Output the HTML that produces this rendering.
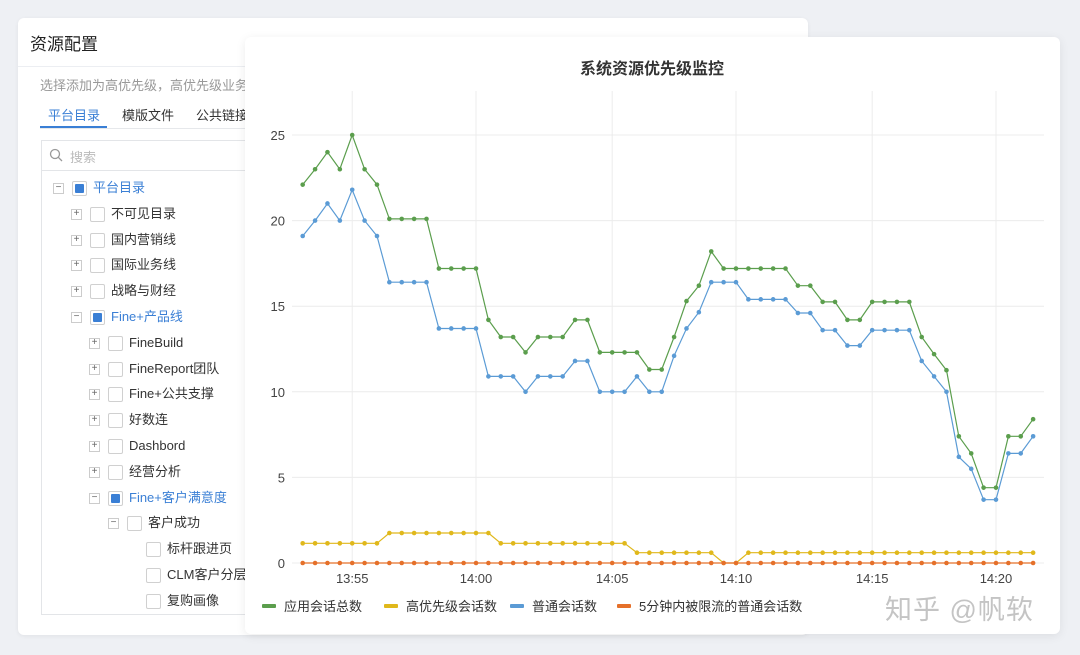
<!DOCTYPE html>
<html><head><meta charset="utf-8">
<style>
body{margin:0;width:1080px;height:655px;background:#eef0f4;position:relative;overflow:hidden;font-family:"Liberation Sans","Noto Sans CJK SC",sans-serif;}
.abs{position:absolute;}
#left{left:18px;top:18px;width:790px;height:617px;background:#fff;border-radius:6px;box-shadow:0 1px 4px rgba(0,0,0,0.06);}
.row{position:absolute;font-size:13px;color:#333;white-space:nowrap;height:20px;line-height:20px;}
.exp{position:absolute;width:9px;height:9px;border:1px solid #ccc;background:#fff;font-size:10px;line-height:8px;text-align:center;color:#666;}
.cb{position:absolute;width:13px;height:13px;border:1px solid #d0d0d0;background:#fff;border-radius:2px;}
.cb.on::after{content:"";position:absolute;left:2px;top:2px;width:9px;height:9px;background:#3a7fd5;border-radius:1px;}
#card{left:245px;top:37px;width:815px;height:597px;background:#fff;border-radius:6px;box-shadow:0 2px 10px rgba(0,0,0,0.08);}
</style></head><body>
<div id="left" class="abs">
  <div class="abs" style="left:12px;top:12px;font-size:17px;color:#222;">资源配置</div>
  <div class="abs" style="left:0;top:48px;width:790px;height:1px;background:#eceef2;"></div>
  <div class="abs" style="left:22px;top:57px;font-size:13px;color:#999;white-space:nowrap;">选择添加为高优先级，高优先级业务</div>
  <div class="abs" style="left:30px;top:87px;font-size:13px;color:#3a7fd5;">平台目录</div>
  <div class="abs" style="left:104px;top:87px;font-size:13px;color:#333;">模版文件</div>
  <div class="abs" style="left:178px;top:87px;font-size:13px;color:#333;">公共链接</div>
  <div class="abs" style="left:22px;top:108px;width:67px;height:2px;background:#3a7fd5;"></div>
  <div class="abs" style="left:22px;top:110px;width:768px;height:1px;background:#e6e8eb;"></div>
  <div class="abs" style="left:23px;top:122px;width:240px;height:473px;border:1px solid #e3e5e8;">
    <div class="abs" style="left:0;top:0;width:240px;height:29px;border-bottom:1px solid #e3e5e8;">
      <svg class="abs" style="left:7px;top:7px" width="14" height="14"><circle cx="6" cy="6" r="4.5" fill="none" stroke="#999" stroke-width="1.3"/><line x1="9.3" y1="9.3" x2="13" y2="13" stroke="#999" stroke-width="1.3"/></svg>
      <div class="abs" style="left:28px;top:6px;font-size:13px;color:#bbb;">搜索</div>
    </div>
  </div>
  <div id="tree"></div>
</div>

<div id="card" class="abs">
<svg id="chart" width="815" height="597" style="position:absolute;left:0;top:0">
<g id="root" transform="translate(-245,-37)"></g>
</svg>
</div>
<div class="abs" style="left:885px;top:588px;font-size:27px;color:#c4c4c4;letter-spacing:1px;text-shadow:1px 1px 0 #fff;white-space:nowrap;">知乎 @帆软</div>

<script>
// ---- tree ----
const treeItems=[["平台目录",0,"m",1,1],["不可见目录",1,"p",0,0],["国内营销线",1,"p",0,0],["国际业务线",1,"p",0,0],["战略与财经",1,"p",0,0],["Fine+产品线",1,"m",1,1],["FineBuild",2,"p",0,0],["FineReport团队",2,"p",0,0],["Fine+公共支撑",2,"p",0,0],["好数连",2,"p",0,0],["Dashbord",2,"p",0,0],["经营分析",2,"p",0,0],["Fine+客户满意度",2,"m",1,1],["客户成功",3,"m",0,0],["标杆跟进页",4,"",0,0],["CLM客户分层-",4,"",0,0],["复购画像",4,"",0,0]];
const tree=document.getElementById('tree');
treeItems.forEach((it,i)=>{
  const cy=170+i*25.8;
  const lx=[40,58,76,95,114][it[1]];
  const d=document.createElement('div');
  d.className='row';
  
  
  d.style.left='0px';d.style.top=(cy-10)+'px';d.style.width='245px';
  let h='';
  if(it[2]) h+='<div class="exp" style="left:'+(lx-5)+'px;top:5px">'+(it[2]=='m'?'−':'+')+'</div>';
  h+='<div class="cb'+(it[3]?' on':'')+'" style="left:'+(lx+14)+'px;top:3px"></div>';
  h+='<div style="position:absolute;left:'+(lx+35)+'px;top:0;color:'+(it[4]?'#3a7fd5':'#333')+'">'+it[0]+'</div>';
  d.innerHTML=h;tree.appendChild(d);
});

// ---- chart data ----
const categories=["13:53:00","13:53:30","13:54:00","13:54:30","13:55:00","13:55:30","13:56:00","13:56:30","13:57:00","13:57:30","13:58:00","13:58:30","13:59:00","13:59:30","14:00:00","14:00:30","14:01:00","14:01:30","14:02:00","14:02:30","14:03:00","14:03:30","14:04:00","14:04:30","14:05:00","14:05:30","14:06:00","14:06:30","14:07:00","14:07:30","14:08:00","14:08:30","14:09:00","14:09:30","14:10:00","14:10:30","14:11:00","14:11:30","14:12:00","14:12:30","14:13:00","14:13:30","14:14:00","14:14:30","14:15:00","14:15:30","14:16:00","14:16:30","14:17:00","14:17:30","14:18:00","14:18:30","14:19:00","14:19:30","14:20:00","14:20:30","14:21:00","14:21:30","14:22:00","14:22:30"];
const tickIndices=[4,14,25,35,46,56];
const tickLabels=["13:55","14:00","14:05","14:10","14:15","14:20"];
const yTicks=[0,5,10,15,20,25];
const greenVals=[22.1,23,24,23,25,23,22.1,20.1,20.1,20.1,20.1,17.2,17.2,17.2,17.2,14.2,13.2,13.2,12.3,13.2,13.2,13.2,14.2,14.2,12.3,12.3,12.3,12.3,11.3,11.3,13.2,15.3,16.2,18.2,17.2,17.2,17.2,17.2,17.2,17.2,16.2,16.2,15.25,15.25,14.2,14.2,15.25,15.25,15.25,15.25,13.2,12.2,11.26,7.4,6.4,4.4,4.4,7.4,7.4,8.4];
const yellowVals=[1.15,1.15,1.15,1.15,1.15,1.15,1.15,1.75,1.75,1.75,1.75,1.75,1.75,1.75,1.75,1.75,1.15,1.15,1.15,1.15,1.15,1.15,1.15,1.15,1.15,1.15,1.15,0.6,0.6,0.6,0.6,0.6,0.6,0.6,0,0,0.6,0.6,0.6,0.6,0.6,0.6,0.6,0.6,0.6,0.6,0.6,0.6,0.6,0.6,0.6,0.6,0.6,0.6,0.6,0.6,0.6,0.6,0.6,0.6];
const blueVals=[19.1,20,21,20,21.8,20,19.1,16.4,16.4,16.4,16.4,13.7,13.7,13.7,13.7,10.9,10.9,10.9,10,10.9,10.9,10.9,11.8,11.8,10,10,10,10.9,10,10,12.1,13.7,14.65,16.4,16.4,16.4,15.4,15.4,15.4,15.4,14.6,14.6,13.6,13.6,12.7,12.7,13.6,13.6,13.6,13.6,11.8,10.9,10,6.2,5.5,3.7,3.7,6.4,6.4,7.4];
const orangeVals=new Array(60).fill(0);
const seriesNames=["应用会话总数","高优先级会话数","普通会话数","5分钟内被限流的普通会话数"];
const seriesColors=["#5b9e4d","#e0b81b","#5b9bd5","#e5702a"];

const NS='http://www.w3.org/2000/svg';
const root=document.getElementById('root');
const X0=302.7,DX=12.38,Y0=563,YK=17.12,XL=292,XR=1044,YT=91;
const xs=i=>X0+i*DX, ys=v=>Y0-v*YK;
function el(t,a,p){const e=document.createElementNS(NS,t);for(const k in a)e.setAttribute(k,a[k]);(p||root).appendChild(e);return e;}

const title=el('text',{x:652,y:74,'text-anchor':'middle','font-size':16,fill:'#333','font-weight':'bold'});


title.textContent='系统资源优先级监控';

yTicks.forEach(v=>{
  const g=el('line',{x1:XL,x2:XR,y1:ys(v),y2:ys(v),stroke:'#ececec'});
  
  
  const t=el('text',{x:285,y:ys(v)+5,'text-anchor':'end','font-size':13,fill:'#444'});
  
  
  t.textContent=v;
});
tickIndices.forEach((idx,k)=>{
  const g=el('line',{x1:xs(idx),x2:xs(idx),y1:YT,y2:Y0,stroke:'#ececec'});
  
  
  const t=el('text',{x:xs(idx),y:583,'text-anchor':'middle','font-size':13,fill:'#444'});
  
  
  t.textContent=tickLabels[k];
});

[greenVals,yellowVals,blueVals,orangeVals].forEach((vals,s)=>{
  const g=el('g',{});
  
  
  const pts=vals.map((v,i)=>xs(i).toFixed(1)+','+ys(v).toFixed(1)).join(' ');
  const pl=el('polyline',{points:pts,fill:'none',stroke:seriesColors[s],'stroke-width':1.2},g);
  
  
  vals.forEach((v,i)=>{
    const c=el('circle',{cx:xs(i),cy:ys(v),r:2.3,fill:seriesColors[s]},g);
    
    
  });
});

const legX=[262,384,510,617];
seriesNames.forEach((n,s)=>{
  const g=el('g',{});
  
  
  el('rect',{x:legX[s],y:604,width:14,height:4,rx:1,fill:seriesColors[s]},g);
  const t=el('text',{x:legX[s]+22,y:611,'font-size':13,fill:'#333'},g);
  t.textContent=n;
});
</script>
</body></html>
